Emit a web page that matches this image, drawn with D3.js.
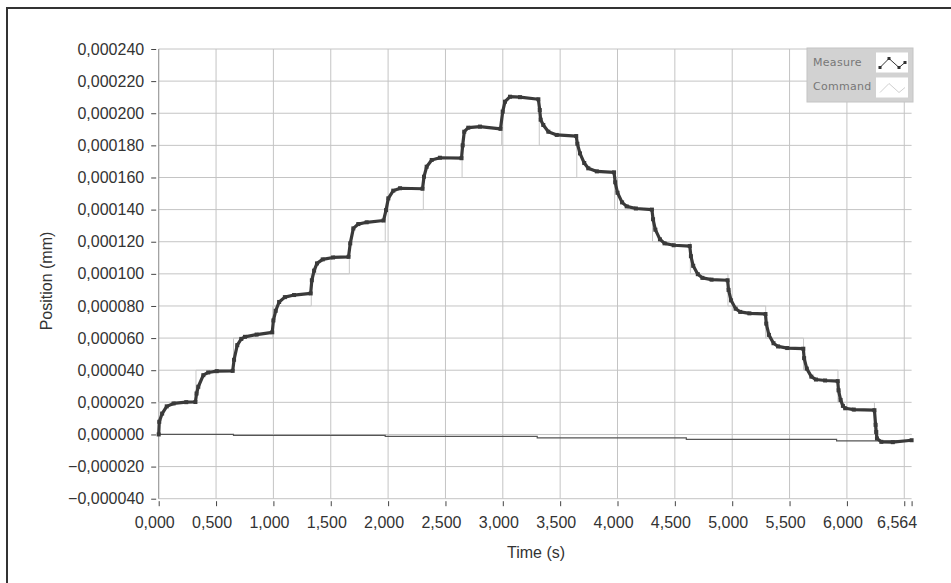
<!DOCTYPE html>
<html>
<head>
<meta charset="utf-8">
<script src="https://cdn.jsdelivr.net/npm/d3@7"></script>
<style>
  html, body { margin: 0; padding: 0; background: #fff; }
  svg { display: block; }
</style>
</head>
<body>
<svg id="chart" width="951" height="583"></svg>
<script>
// Axis ranges / ticks
const X_DOMAIN = [0, 6.564];
const Y_DOMAIN = [-0.00004, 0.00024];
const xGrid = [0, 0.5, 1, 1.5, 2, 2.5, 3, 3.5, 4, 4.5, 5, 5.5, 6, 6.5];
const xLabels = [0, 0.5, 1, 1.5, 2, 2.5, 3, 3.5, 4, 4.5, 5, 5.5, 6, 6.564];
const yTicks = [-0.00004, -0.00002, 0, 0.00002, 0.00004, 0.00006, 0.00008, 0.0001,
  0.00012, 0.00014, 0.00016, 0.00018, 0.0002, 0.00022, 0.00024];

const measure = [
  [0, 0], [0.005, 7.9e-6], [0.03, 13.0e-6], [0.07, 17.5e-6], [0.13, 19.3e-6], [0.24, 20.1e-6], [0.32, 20.2e-6],
  [0.33, 25.5e-6], [0.345, 29.7e-6], [0.389, 36.9e-6], [0.432, 38.6e-6], [0.506, 39.4e-6], [0.645, 39.6e-6],
  [0.657, 46.5e-6], [0.685, 55.6e-6], [0.72, 59.5e-6], [0.752, 60.8e-6], [0.854, 62.2e-6], [0.99, 63.6e-6],
  [1.0, 71e-6], [1.02, 77e-6], [1.05, 82.5e-6], [1.1, 85.5e-6], [1.18, 86.8e-6], [1.325, 87.8e-6],
  [1.335, 96e-6], [1.355, 102e-6], [1.38, 106.5e-6], [1.43, 109e-6], [1.52, 110.2e-6], [1.655, 110.6e-6],
  [1.67, 119e-6], [1.697, 128.3e-6], [1.74, 131e-6], [1.813, 132.1e-6], [1.96, 133.2e-6],
  [1.982, 139.7e-6], [2.002, 147e-6], [2.045, 151.8e-6], [2.104, 153.3e-6], [2.3, 153e-6],
  [2.313, 160.5e-6], [2.336, 166.7e-6], [2.38, 170.9e-6], [2.452, 172.3e-6], [2.64, 172e-6],
  [2.65, 180e-6], [2.664, 188.5e-6], [2.699, 191e-6], [2.801, 191.7e-6], [2.98, 190.3e-6],
  [2.999, 201e-6], [3.019, 207.2e-6], [3.063, 210.3e-6], [3.15, 210e-6], [3.31, 208.7e-6],
  [3.322, 202e-6], [3.33, 196e-6], [3.353, 192.7e-6], [3.397, 188.5e-6], [3.47, 186.5e-6], [3.64, 185.8e-6],
  [3.65, 181e-6], [3.673, 175e-6], [3.71, 169e-6], [3.745, 165.7e-6], [3.82, 163.8e-6], [3.97, 163.2e-6],
  [3.98, 157e-6], [4.0, 150.5e-6], [4.04, 144.5e-6], [4.08, 142e-6], [4.16, 140.7e-6], [4.3, 140e-6],
  [4.31, 134e-6], [4.33, 127.5e-6], [4.37, 121.5e-6], [4.41, 119e-6], [4.49, 117.8e-6], [4.63, 117.3e-6],
  [4.64, 111e-6], [4.66, 105e-6], [4.7, 99.8e-6], [4.74, 97.5e-6], [4.82, 96.4e-6], [4.96, 96e-6],
  [4.968, 90e-6], [4.99, 83.5e-6], [5.03, 78.3e-6], [5.07, 76.3e-6], [5.15, 75.4e-6], [5.29, 75e-6],
  [5.297, 69e-6], [5.32, 62e-6], [5.36, 56.8e-6], [5.4, 54.8e-6], [5.48, 53.8e-6], [5.62, 53.4e-6],
  [5.627, 47.5e-6], [5.65, 41e-6], [5.69, 36e-6], [5.73, 34.2e-6], [5.81, 33.6e-6], [5.92, 33.2e-6],
  [5.927, 27.5e-6], [5.945, 21.5e-6], [5.965, 17.8e-6], [5.985, 16.3e-6], [6.06, 15.5e-6], [6.24, 15.1e-6],
  [6.25, 6e-6], [6.256, 1.5e-6], [6.262, -2.5e-6], [6.3, -4.6e-6], [6.4, -4.8e-6], [6.564, -3.6e-6]
];

// Command: step times (s) and the level (mm) held from each time on
const cmdTimes = [0, 0.325, 0.652, 0.995, 1.33, 1.662, 1.975, 2.307, 2.645, 2.99,
  3.318, 3.645, 3.975, 4.305, 4.635, 4.963, 5.292, 5.622, 5.922, 6.24];
const cmdLevels = [20e-6, 40e-6, 60e-6, 80e-6, 100e-6, 120e-6, 140e-6, 160e-6, 180e-6, 200e-6,
  180e-6, 160e-6, 140e-6, 120e-6, 100e-6, 80e-6, 60e-6, 40e-6, 20e-6, 0];

// Slow drift trace near zero
const driftTimes = [0, 0.652, 1.975, 3.3, 4.6, 5.91];
const driftLevels = [0, -0.6e-6, -1.25e-6, -2.1e-6, -3.1e-6, -4.0e-6];

const LEFT = 158.7, RIGHT = 911.6, TOP = 49, BOTTOM = 498.7;
const FONT = "'Liberation Sans', Arial, sans-serif";
const FONT_SIZE = 16;

const svg = d3.select("#chart");
const x = d3.scaleLinear().domain(X_DOMAIN).range([LEFT, RIGHT]);
const y = d3.scaleLinear().domain(Y_DOMAIN).range([BOTTOM, TOP]);

// outer frame
svg.append("rect")
  .attr("x", 7).attr("y", 8).attr("width", 980).attr("height", 600)
  .attr("fill", "none").attr("stroke", "#333").attr("stroke-width", 2);

const fmt = (v) => (v < 0 ? "\u2212" : "") + d3.format(".6f")(Math.abs(v)).replace(".", ",");
const fmtX = (v) => d3.format(".3f")(v).replace(".", ",");

// grid
const grid = svg.append("g").attr("stroke", "#c4c4c4").attr("stroke-width", 1);
grid.selectAll("line.h").data(yTicks).join("line")
  .attr("x1", LEFT).attr("x2", RIGHT)
  .attr("y1", (d) => y(d)).attr("y2", (d) => y(d));
grid.selectAll("line.v").data(xGrid).join("line")
  .attr("y1", TOP).attr("y2", BOTTOM)
  .attr("x1", (d) => x(d)).attr("x2", (d) => x(d));
svg.append("line").attr("x1", LEFT).attr("x2", LEFT).attr("y1", TOP).attr("y2", BOTTOM)
  .attr("stroke", "#999");

// y axis
const yAxis = svg.append("g")
  .attr("transform", `translate(${LEFT - 2.5},0)`)
  .call(d3.axisLeft(y).tickValues(yTicks).tickSize(5).tickPadding(7).tickFormat(fmt));
yAxis.select(".domain").remove();
yAxis.selectAll("line").attr("stroke", "#444");
yAxis.selectAll("text").attr("font-family", FONT).attr("font-size", FONT_SIZE).attr("fill", "#333");

// x axis
const xAxis = svg.append("g")
  .attr("transform", `translate(0,${BOTTOM + 2.5})`)
  .call(d3.axisBottom(x).tickValues(xGrid.concat([6.564])).tickSize(5).tickPadding(10)
    .tickFormat((d) => (xLabels.includes(d) ? fmtX(d) : "")));
xAxis.select(".domain").remove();
xAxis.selectAll("line").attr("stroke", "#444");
xAxis.selectAll("text").attr("font-family", FONT).attr("font-size", FONT_SIZE).attr("fill", "#333")
  .attr("dx", (d) => (d === 6.564 ? -15 : -4.5));

svg.append("text")
  .attr("transform", "translate(52,281) rotate(-90)")
  .attr("text-anchor", "middle")
  .attr("font-family", FONT).attr("font-size", FONT_SIZE).attr("fill", "#333")
  .text("Position (mm)");
svg.append("text")
  .attr("x", 536).attr("y", 558)
  .attr("text-anchor", "middle")
  .attr("font-family", FONT).attr("font-size", FONT_SIZE).attr("fill", "#333")
  .text("Time (s)");

// command (light step line)
const cmdData = [[0, 0]].concat(cmdTimes.map((t, i) => [t, cmdLevels[i]]), [[X_DOMAIN[1], 0]]);
const stepLine = d3.line().x((d) => x(d[0])).y((d) => y(d[1])).curve(d3.curveStepAfter);
svg.append("path").datum(cmdData)
  .attr("d", stepLine).attr("fill", "none").attr("stroke", "#c8c8c8").attr("stroke-width", 1);

// drift trace
const driftData = driftTimes.map((t, i) => [t, driftLevels[i]]).concat([[X_DOMAIN[1], driftLevels.at(-1)]]);
svg.append("path").datum(driftData)
  .attr("d", stepLine).attr("fill", "none").attr("stroke", "#555").attr("stroke-width", 1.2);

// measure
const line = d3.line().x((d) => x(d[0])).y((d) => y(d[1]));
svg.append("path").datum(measure)
  .attr("d", line).attr("fill", "none").attr("stroke", "#3a3a3a")
  .attr("stroke-width", 3.2).attr("stroke-linejoin", "round");
svg.append("g").attr("fill", "#3a3a3a")
  .selectAll("rect").data(measure).join("rect")
  .attr("x", (d) => x(d[0]) - 2).attr("y", (d) => y(d[1]) - 2)
  .attr("width", 4).attr("height", 4);

// legend
const legend = svg.append("g").attr("transform", "translate(807,48)");
legend.append("rect").attr("width", 106).attr("height", 54).attr("fill", "#d2d2d2")
  .attr("stroke", "#c4c4c4");
legend.selectAll("text").data(["Measure", "Command"]).join("text")
  .attr("x", 6).attr("y", (d, i) => 18 + i * 24)
  .attr("font-family", "'DejaVu Sans', sans-serif").attr("font-size", 11)
  .attr("letter-spacing", 0.3).attr("fill", "#777").text((d) => d);
legend.selectAll("rect.sw").data([0, 1]).join("rect").attr("class", "sw")
  .attr("x", 69).attr("y", (d) => 4.5 + d * 25).attr("width", 32).attr("height", 20)
  .attr("fill", "#fff");
const swMeasure = [[4, 15], [13, 6], [23, 15], [29, 10]];
const swLine = d3.line().x((d) => 69 + d[0]).y((d) => 4.5 + d[1]);
legend.append("path").datum(swMeasure).attr("d", swLine)
  .attr("fill", "none").attr("stroke", "#333").attr("stroke-width", 1);
legend.append("g").selectAll("rect").data(swMeasure).join("rect")
  .attr("x", (d) => 69 + d[0] - 1.5).attr("y", (d) => 4.5 + d[1] - 1.5)
  .attr("width", 3).attr("height", 3).attr("fill", "#333");
legend.append("path").datum(swMeasure.map((d) => [d[0], d[1] + 25]))
  .attr("d", swLine).attr("fill", "none").attr("stroke", "#d0d0d0").attr("stroke-width", 1);
</script>
</body>
</html>
